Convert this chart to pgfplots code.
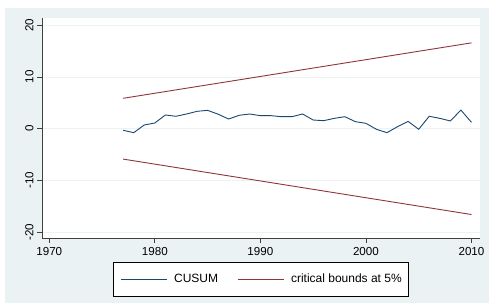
\documentclass[border=0pt]{standalone}
\usepackage{pgfplots}
\pgfplotsset{compat=1.18}
\usepackage{fontspec}
\setmainfont{Liberation Sans}
\definecolor{stnavy}{RGB}{26,71,111}
\definecolor{stmaroon}{RGB}{144,53,59}
\definecolor{stbg}{RGB}{234,242,243}
\definecolor{stgrid}{RGB}{234,242,243}
\begin{document}
\begin{tikzpicture}[x=1pt,y=1pt]
\useasboundingbox (0,0) rectangle (489,304);
\fill[white] (0,0) rectangle (489,304);
\fill[stbg] (5,1) rectangle (489,296);
\begin{axis}[
 at={(42pt,66pt)}, anchor=south west,
 scale only axis, width=438pt, height=220pt,
 xmin=1969.31, xmax=2010.81, ymin=-21.14, ymax=21.41,
 axis background/.style={fill=white},
 axis lines*=left,
 axis line style={black!75, line width=0.9pt, -},
 xtick={1970,1980,1990,2000,2010}, ytick={-20,-10,0,10,20},
 tick align=outside, major tick length=5pt,
 tick style={black!75, line width=0.8pt},
 ymajorgrids, grid style={stgrid, line width=0.9pt},
 /pgf/number format/assume math mode=true,
 /pgf/number format/1000 sep={},
 tick label style={font=\fontsize{11.6}{13}\selectfont, black},
 xticklabel style={yshift=-1pt},
 yticklabel style={rotate=90, anchor=south, xshift=0pt},
 legend style={at={(0.5,-0.1077)}, anchor=north, draw=black, line width=0.8pt,
   font=\fontsize{12}{14}\selectfont, legend columns=2,
   inner xsep=7pt, inner ysep=12pt, nodes={inner sep=0pt},
   /tikz/every odd column/.style={column sep=7pt},
   /tikz/every even column/.style={column sep=19pt}},
 legend image code/.code={\draw[#1,line width=0.9pt] (0pt,0pt) -- (46pt,0pt);},
]
\addplot[stnavy, line width=0.9pt] coordinates {
(1977,-0.3) (1978,-0.77) (1979,0.72) (1980,1.1) (1981,2.65) (1982,2.4)
(1983,2.84) (1984,3.36) (1985,3.55) (1986,2.8) (1987,1.87) (1988,2.6)
(1989,2.84) (1990,2.52) (1991,2.52) (1992,2.32) (1993,2.32) (1994,2.85)
(1995,1.68) (1996,1.55) (1997,2.0) (1998,2.32) (1999,1.36) (2000,1.04)
(2001,-0.12) (2002,-0.77) (2003,0.4) (2004,1.42) (2005,-0.12) (2006,2.4)
(2007,2.0) (2008,1.5) (2009,3.6) (2010,1.23)
};
\addlegendentry{CUSUM}
\addplot[stmaroon, line width=0.9pt] coordinates {(1977,5.88) (2010,16.6)};
\addlegendentry{critical bounds at 5\%}
\addplot[stmaroon, line width=0.9pt, forget plot] coordinates {(1977,-5.88) (2010,-16.6)};
\end{axis}
\end{tikzpicture}
\end{document}
